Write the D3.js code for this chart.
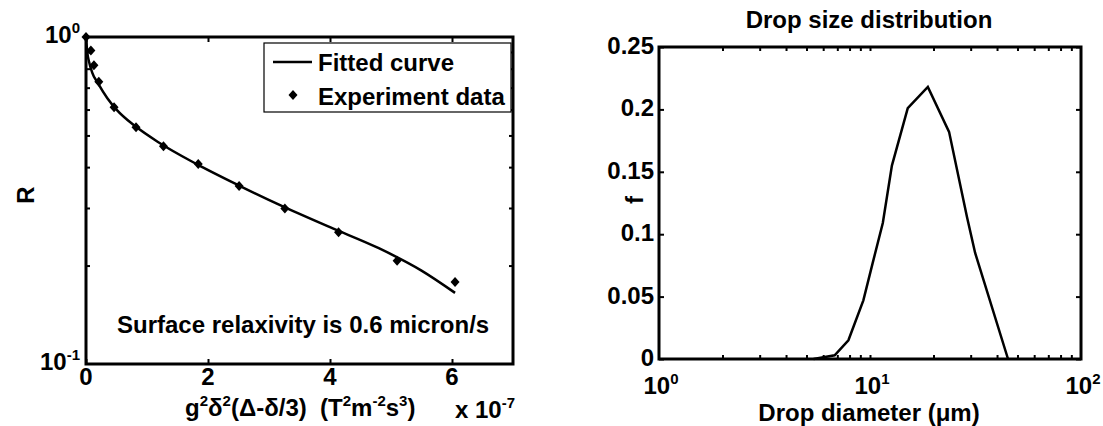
<!DOCTYPE html>
<html>
<head>
<meta charset="utf-8">
<script src="https://cdn.jsdelivr.net/npm/d3@7"></script>
<style>
  body { margin: 0; background: #fff; }
  svg text { font-family: "Liberation Sans", Arial, sans-serif; font-weight: bold; fill: #000; }
</style>
</head>
<body>
<script>
// left panel: relaxation data (x in units of 1e-7)
var expX = [0, 0.08, 0.13, 0.21, 0.46, 0.82, 1.27, 1.84, 2.51, 3.26, 4.14, 5.1, 6.05];
var expR = [1.0, 0.91, 0.82, 0.73, 0.61, 0.53, 0.463, 0.409, 0.35, 0.299, 0.253, 0.207, 0.178];
var fitX = [0, 0.02, 0.05, 0.1, 0.2, 0.35, 0.5, 0.8, 1.2, 1.8, 2.5, 3.2, 4.0, 4.8, 5.5, 6.05];
var fitR = [1.0, 0.9, 0.84, 0.78, 0.72, 0.65, 0.6, 0.535, 0.475, 0.41, 0.352, 0.305, 0.262, 0.226, 0.193, 0.165];
var leftXTicks = [0, 2, 4, 6];

// right panel: drop size distribution
var dropD = [5.4, 6.8, 7.9, 9.3, 10.3, 11.5, 12.7, 15.1, 18.8, 23.7, 28.8, 31.5, 45.1];
var dropF = [0, 0.003, 0.015, 0.047, 0.077, 0.109, 0.155, 0.201, 0.218, 0.182, 0.114, 0.085, 0];
var rightYTicks = [0, 0.05, 0.1, 0.15, 0.2, 0.25];
var rightYLabels = ["0", "0.05", "0.1", "0.15", "0.2", "0.25"];

var svg = d3.select("body").append("svg")
    .attr("width", 1103)
    .attr("height", 426);

var fs = 24, sup = 15;

function superText(sel, parts) {
  // parts: [[text, isSuper], ...]
  var up = false;
  parts.forEach(function(p){
    var ts = sel.append("tspan").text(p[0]);
    if (p[1] && !up) { ts.attr("dy", -10).attr("font-size", sup); up = true; }
    else if (!p[1] && up) { ts.attr("dy", 10); up = false; }
    else if (p[1]) ts.attr("font-size", sup);
  });
}

// ---------- left panel ----------
var xL = d3.scaleLinear().domain([0, 7]).range([86, 513]);
var yL = d3.scaleLog().domain([0.1, 1]).range([364, 37]);

var minorL = d3.range(2, 10).map(function(d){ return d / 10; });

var gL = svg.append("g");

// inward ticks on all four sides
gL.append("g").attr("transform", "translate(0," + yL(0.1) + ")")
    .call(d3.axisBottom(xL).tickValues(leftXTicks).tickSize(-5).tickFormat(""));
gL.append("g").attr("transform", "translate(0," + yL(1) + ")")
    .call(d3.axisTop(xL).tickValues(leftXTicks).tickSize(-5).tickFormat(""));
gL.append("g").attr("transform", "translate(" + xL(0) + ",0)")
    .call(d3.axisLeft(yL).tickValues(minorL).tickSize(-4).tickFormat(""));
gL.append("g").attr("transform", "translate(" + xL(7) + ",0)")
    .call(d3.axisRight(yL).tickValues(minorL).tickSize(-4).tickFormat(""));

gL.selectAll(".domain").remove();
gL.selectAll(".tick line").attr("stroke", "#000").attr("stroke-width", 2);

gL.append("rect")
    .attr("x", xL(0)).attr("y", yL(1))
    .attr("width", xL(7) - xL(0)).attr("height", yL(0.1) - yL(1))
    .attr("fill", "none").attr("stroke", "#000").attr("stroke-width", 3);

// tick labels
gL.selectAll(".xlab").data(leftXTicks).enter().append("text")
    .attr("x", function(d){ return xL(d); })
    .attr("y", yL(0.1) + 21)
    .attr("text-anchor", "middle")
    .attr("font-size", fs)
    .text(function(d){ return d; });

[[1, "0"], [0.1, "-1"]].forEach(function(t){
  var tx = gL.append("text")
      .attr("x", xL(0) - 6)
      .attr("y", yL(t[0]) + 6)
      .attr("text-anchor", "end")
      .attr("font-size", fs);
  superText(tx, [["10", false], [t[1], true]]);
});

// fitted curve
var fitData = fitX.map(function(x, i){ return [x, fitR[i]]; });
gL.append("path")
    .attr("d", d3.line().x(function(d){ return xL(d[0]); }).y(function(d){ return yL(d[1]); })
        .curve(d3.curveMonotoneX)(fitData))
    .attr("fill", "none").attr("stroke", "#000").attr("stroke-width", 2.5);

// experiment points
var diamond = "M0,-5L4.5,0L0,5L-4.5,0Z";
gL.selectAll(".pt").data(expX).enter().append("path")
    .attr("d", diamond)
    .attr("transform", function(d, i){ return "translate(" + xL(d) + "," + yL(expR[i]) + ")"; })
    .attr("fill", "#000");

// legend
gL.append("rect").attr("x", 264).attr("y", 43).attr("width", 247).attr("height", 69)
    .attr("fill", "#fff").attr("stroke", "#000").attr("stroke-width", 1.2);
gL.append("line").attr("x1", 273).attr("x2", 312).attr("y1", 62).attr("y2", 62)
    .attr("stroke", "#000").attr("stroke-width", 2.5);
gL.append("path").attr("d", diamond).attr("transform", "translate(293,95)").attr("fill", "#000");
gL.append("text").attr("x", 318).attr("y", 71).attr("font-size", fs).text("Fitted curve");
gL.append("text").attr("x", 318).attr("y", 105).attr("font-size", fs).text("Experiment data");

gL.append("text").attr("x", 117).attr("y", 333).attr("font-size", fs)
    .text("Surface relaxivity is 0.6 micron/s");

// axis labels
gL.append("text")
    .attr("transform", "translate(34,195) rotate(-90)")
    .attr("text-anchor", "middle").attr("font-size", fs).text("R");

var xt = gL.append("text").attr("x", 185).attr("y", 416).attr("font-size", fs);
superText(xt, [["g", false], ["2", true], ["δ", false], ["2", true],
  ["(Δ-δ/3)\u00a0\u00a0(T", false], ["2", true], ["m", false], ["-2", true],
  ["s", false], ["3", true], [")", false]]);

var xe = gL.append("text").attr("x", 455).attr("y", 418).attr("font-size", fs);
superText(xe, [["x 10", false], ["-7", true]]);

// ---------- right panel ----------
var xR = d3.scaleLog().domain([1, 100]).range([659, 1081]);
var yR = d3.scaleLinear().domain([0, 0.25]).range([359, 47]);

var minorR = [];
[1, 10].forEach(function(b){ for (var k = 2; k <= 9; k++) minorR.push(b * k); });

var gR = svg.append("g");

gR.append("g").attr("transform", "translate(0," + yR(0) + ")")
    .call(d3.axisBottom(xR).tickValues(minorR.concat([10])).tickSize(-4).tickFormat(""));
gR.append("g").attr("transform", "translate(0," + yR(0.25) + ")")
    .call(d3.axisTop(xR).tickValues(minorR.concat([10])).tickSize(-4).tickFormat(""));
gR.append("g").attr("transform", "translate(" + xR(1) + ",0)")
    .call(d3.axisLeft(yR).tickValues(rightYTicks).tickSize(-5).tickFormat(""));
gR.append("g").attr("transform", "translate(" + xR(100) + ",0)")
    .call(d3.axisRight(yR).tickValues(rightYTicks).tickSize(-5).tickFormat(""));

gR.selectAll(".domain").remove();
gR.selectAll(".tick line").attr("stroke", "#000").attr("stroke-width", 2);

gR.append("rect")
    .attr("x", xR(1)).attr("y", yR(0.25))
    .attr("width", xR(100) - xR(1)).attr("height", yR(0) - yR(0.25))
    .attr("fill", "none").attr("stroke", "#000").attr("stroke-width", 3);

gR.selectAll(".ylab").data(rightYTicks).enter().append("text")
    .attr("x", xR(1) - 5)
    .attr("y", function(d){ return yR(d) + 7; })
    .attr("text-anchor", "end")
    .attr("font-size", fs)
    .text(function(d, i){ return rightYLabels[i]; });

[[1, "0"], [10, "1"], [100, "2"]].forEach(function(t){
  var tx = gR.append("text")
      .attr("x", xR(t[0]) + 2)
      .attr("y", yR(0) + 35)
      .attr("text-anchor", "middle")
      .attr("font-size", fs);
  superText(tx, [["10", false], [t[1], true]]);
});

var dropData = dropD.map(function(d, i){ return [d, dropF[i]]; });
gR.append("path")
    .attr("d", d3.line().x(function(d){ return xR(d[0]); }).y(function(d){ return yR(d[1]); })(dropData))
    .attr("fill", "none").attr("stroke", "#000").attr("stroke-width", 2.5);

gR.append("text").attr("x", 869).attr("y", 28).attr("text-anchor", "middle")
    .attr("font-size", fs).text("Drop size distribution");
gR.append("text").attr("x", 869).attr("y", 421).attr("text-anchor", "middle")
    .attr("font-size", fs).text("Drop diameter (μm)");
gR.append("text")
    .attr("transform", "translate(643,200) rotate(-90)")
    .attr("text-anchor", "middle").attr("font-size", fs).text("f");
</script>
</body>
</html>
